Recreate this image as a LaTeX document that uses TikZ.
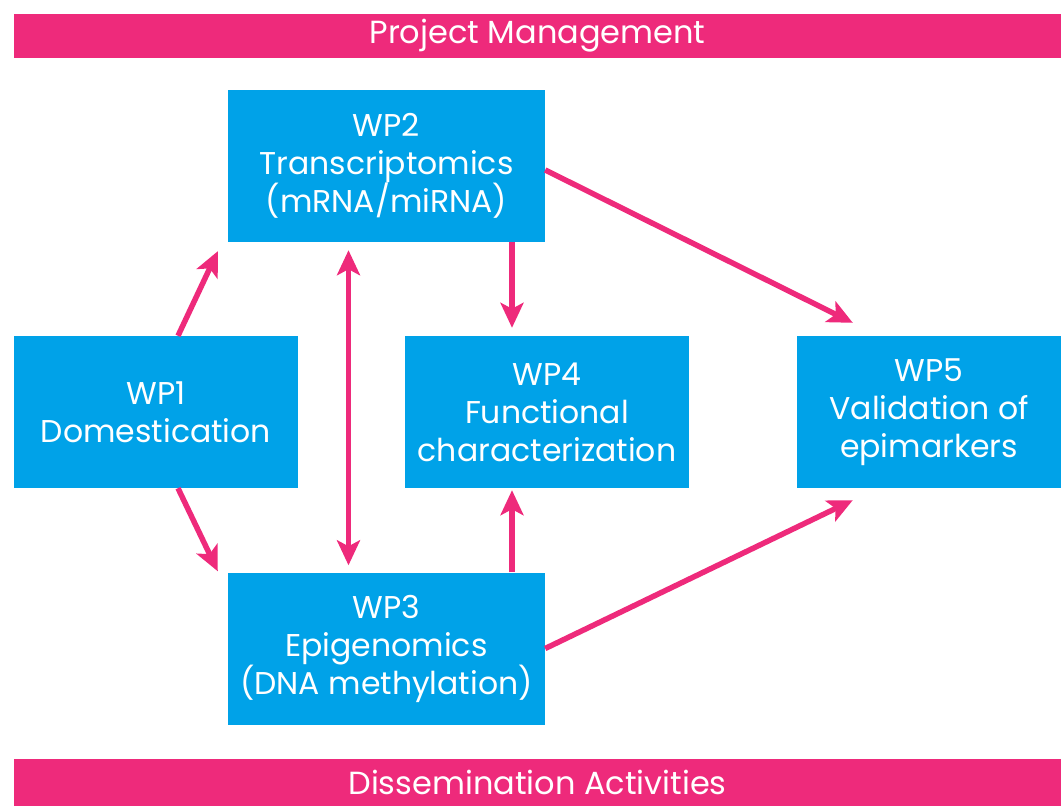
\documentclass[tikz,border=0pt]{standalone}
\usepackage{fontspec}
\setmainfont{Poppins}
\usetikzlibrary{arrows.meta}
\definecolor{wpblue}{HTML}{00A2E8}
\definecolor{wppink}{HTML}{EE2A7B}
\begin{document}
\begin{tikzpicture}[x=1pt,y=-1pt,
    wpbox/.style={fill=wpblue,text=white,inner sep=0pt,align=center,
      font=\fontsize{31.5}{38}\selectfont},
    barbox/.style={fill=wppink,text=white,inner sep=0pt,
      font=\fontsize{32}{34}\selectfont},
    arr/.style={draw=wppink,line width=5.5pt,
      -{Stealth[length=25pt,width=23pt,inset=6pt]}},
    arrtwo/.style={arr,{Stealth[length=25pt,width=23pt,inset=6pt]}-{Stealth[length=25pt,width=23pt,inset=6pt]}}]
    \useasboundingbox (0,0) rectangle (1061,806);
      %
      \node[barbox,minimum width=1047pt,minimum height=44pt] (pm) at (537.5,36) {Project Management};
      \node[barbox,minimum width=1047pt,minimum height=47pt] (da) at (537.5,782.5) {Dissemination Activities};
      %
      \node[wpbox,minimum width=317pt,minimum height=152pt] (wp2) at (386.5,166) {WP2\\Transcriptomics\\(mRNA/miRNA)};
      \node[wpbox,minimum width=284pt,minimum height=152pt] (wp1) at (156,412) {WP1\\Domestication};
      \node[wpbox,minimum width=284pt,minimum height=152pt] (wp4) at (547,412) {WP4\\Functional\\characterization};
      \node[wpbox,minimum width=264pt,minimum height=152pt] (wp5) at (929,412) {WP5\\Validation of\\epimarkers};
      \node[wpbox,minimum width=317pt,minimum height=152pt] (wp3) at (386.5,648.5) {WP3\\Epigenomics\\(DNA methylation)};
      %
      \draw[arr] ([xshift=22pt]wp1.north) -- ([shift={(-10pt,-9pt)}]wp2.south west);
      \draw[arr] ([xshift=22pt]wp1.south) -- ([shift={(-10pt,1pt)}]wp3.north west);
      \draw[arrtwo,shorten <=8pt,shorten >=7pt] ([xshift=-38pt]wp2.south) -- ([xshift=-38pt]wp3.north);
      \draw[arr,shorten >=8pt] ([xshift=-35pt]wp4.north |- wp2.south) -- ([xshift=-35pt]wp4.north);
      \draw[arr,shorten >=2pt] ([xshift=-35pt]wp4.south |- wp3.north) -- ([xshift=-35pt]wp4.south);
      %
      \draw[arr] ([yshift=-4pt]wp2.east) -- ([shift={(56pt,13pt)}]wp5.north west);
      \draw[arr] (wp3.east) -- ([shift={(56pt,-12pt)}]wp5.south west);
    \end{tikzpicture}
\end{document}
